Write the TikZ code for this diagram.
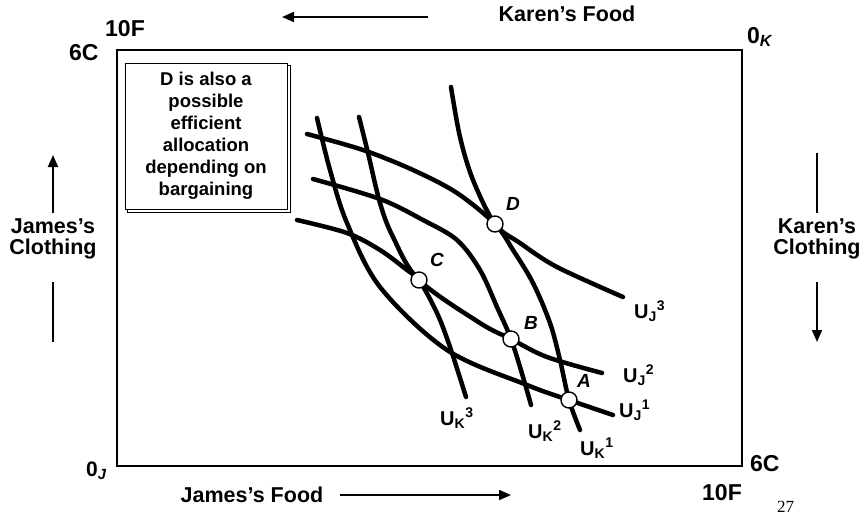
\documentclass[tikz,border=0pt]{standalone}
\usepackage{fontspec}
\setmainfont{Liberation Sans}
\newfontfamily\pagenumfont{Liberation Serif}
\usetikzlibrary{arrows.meta, calc, backgrounds}

\tikzset{
  curve/.style={line width=4.5pt, line cap=round},
  eqpt/.style={circle, draw, line width=1.4pt, fill=white, minimum size=16pt, inner sep=0pt},
  ptlabel/.style={font=\fontsize{19}{19}\selectfont\bfseries\itshape, inner sep=0pt, anchor=base west},
  ulabel/.style={font=\fontsize{20}{20}\selectfont\bfseries, inner sep=0pt, anchor=base west},
  cornerlabel/.style={font=\fontsize{23}{23}\selectfont\bfseries, inner sep=0pt, anchor=base west},
  axlabel/.style={font=\fontsize{21.5}{21}\selectfont\bfseries, align=center, inner sep=0pt},
  axarrow/.style={line width=1.8pt, -{Triangle[length=12pt,width=10pt]}},
  axline/.style={line width=1.8pt},
}

\begin{document}
\begin{tikzpicture}[x=1pt, y=-1pt]
  \useasboundingbox (0,0) rectangle (865,517);

  % the box
  \draw[line width=2.5pt] (117,50) rectangle (742,466);

  % corners
  \node[cornerlabel] (topfood) at (105,36) {10F};
  \node[cornerlabel] (topcloth) at (69,60) {6C};
  \node[cornerlabel] (originK) at (747,43) {0\textsubscript{\itshape K}};
  \node[cornerlabel, font=\fontsize{21}{21}\selectfont\bfseries] (originJ) at (86,476) {0\textsubscript{\itshape J}};
  \node[cornerlabel] (botcloth) at (750,471) {6C};
  \node[cornerlabel] (botfood) at (702,500) {10F};
  \node[inner sep=0pt, anchor=base west, font=\fontsize{17}{17}\selectfont\pagenumfont] (pagenum) at (777,512) {27};

  % axis labels and arrows
  \node[axlabel, anchor=base] (karenfood) at (567,21) {Karen’s Food};
  \coordinate (kf0) at (428,17);
  \coordinate (kf1) at (282,17);
  \draw[axarrow] (kf0) -- (kf1);

  \node[axlabel, anchor=base] (jamesfood) at (252,502) {James’s Food};
  \coordinate (jf0) at (340,495);
  \coordinate (jf1) at (511,495);
  \draw[axarrow] (jf0) -- (jf1);

  \node[axlabel] (jamescloth) at (53,239) {James’s\\Clothing};
  \coordinate (jc0) at (53,213);
  \coordinate (jc1) at (53,155);
  \coordinate (jc2) at (53,282);
  \coordinate (jc3) at (53,342);
  \draw[axarrow] (jc0) -- (jc1);
  \draw[axline] (jc2) -- (jc3);

  \node[axlabel] (karencloth) at (817,239) {Karen’s\\Clothing};
  \coordinate (kc0) at (817,153);
  \coordinate (kc1) at (817,213);
  \coordinate (kc2) at (817,282);
  \coordinate (kc3) at (817,342);
  \draw[axline] (kc0) -- (kc1);
  \draw[axarrow] (kc2) -- (kc3);

  % note
  \node[draw, line width=0.9pt, fill=white, minimum width=162pt, minimum height=146pt,
        align=center, font=\fontsize{18.5}{22}\selectfont\bfseries] (note) at (206,136)
        {D is also a\\possible\\efficient\\allocation\\depending on\\bargaining};
  \begin{pgfonlayer}{background}
    \draw[line width=0.9pt, fill=white] ($(note.north west)+(2.5,2.5)$) rectangle ($(note.south east)+(2.5,2.5)$);
  \end{pgfonlayer}

  % allocations
  \coordinate (A) at (569,400);
  \coordinate (B) at (511,339);
  \coordinate (C) at (419,280);
  \coordinate (D) at (495,224);

  % James's indifference curves
  \draw[curve] plot[smooth, tension=0.55] coordinates {(317,118) (330,170) (347,223) (380,287) (447,350) (527,385) (A) (613,415)};
  \draw[curve] plot[smooth, tension=0.55] coordinates {(359,117) (368,153) (380,203) (393,237) (C) (480,323) (B) (547,357) (602,373)};
  \draw[curve] plot[smooth, tension=0.55] coordinates {(451,87) (460,137) (473,180) (D) (520,243) (557,267) (623,297)};

  % Karen's indifference curves
  \draw[curve] plot[smooth, tension=0.55] coordinates {(307,134) (363,150) (413,170) (457,193) (D) (513,250) (533,283) (550,323) (560,360) (A) (580,430)};
  \draw[curve] plot[smooth, tension=0.55] coordinates {(313,179) (380,199) (423,220) (457,240) (480,270) (497,307) (B) (523,377) (531,405)};
  \draw[curve] plot[smooth, tension=0.55] coordinates {(297,220) (347,233) (380,250) (407,270) (C) (437,313) (450,347) (466,397)};

  \node[eqpt] (pA) at (A) {};
  \node[eqpt] (pB) at (B) {};
  \node[eqpt] (pC) at (C) {};
  \node[eqpt] (pD) at (D) {};

  \node[ptlabel] (lA) at (577,387) {A};
  \node[ptlabel] (lB) at (524,329) {B};
  \node[ptlabel] (lC) at (430,266) {C};
  \node[ptlabel] (lD) at (506,210) {D};

  % curve labels
  \node[ulabel] (uj3) at (634,318) {U\textsubscript{J}\textsuperscript{3}};
  \node[ulabel] (uj2) at (623,382) {U\textsubscript{J}\textsuperscript{2}};
  \node[ulabel] (uj1) at (619,417) {U\textsubscript{J}\textsuperscript{1}};
  \node[ulabel] (uk3) at (440,425) {U\textsubscript{K}\textsuperscript{3}};
  \node[ulabel] (uk2) at (528,438) {U\textsubscript{K}\textsuperscript{2}};
  \node[ulabel] (uk1) at (580,455) {U\textsubscript{K}\textsuperscript{1}};
\end{tikzpicture}
\end{document}
